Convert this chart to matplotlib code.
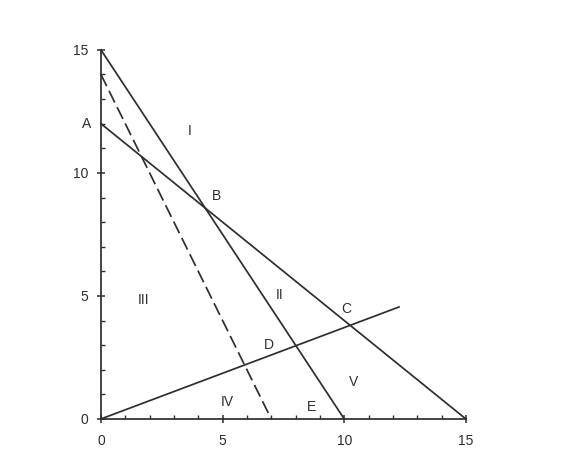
"""Region diagram: four constraint lines with labelled regions and points."""

import matplotlib.pyplot as plt
from matplotlib.ticker import MultipleLocator

plt.rcParams.update({"font.family": ["Liberation Sans", "DejaVu Sans"], "font.size": 10})

INK = "#2e2e2e"

# line end points
steep_x = [0, 10]
steep_y = [15, 0]
shallow_x = [0, 15]
shallow_y = [12, 0]
dashed_x = [0, 7]
dashed_y = [14, 0]
ray_x = [0, 12.25]
ray_y = [0, 4.55]

point_labels = ["A", "B", "C", "D", "E"]
point_x = [-0.6, 4.75, 10.1, 6.9, 8.65]
point_y = [12.0, 9.05, 4.45, 3.0, 0.5]

region_labels = ["I", "II", "III", "IV", "V"]
region_x = [3.65, 7.35, 1.75, 5.2, 10.4]
region_y = [11.7, 5.05, 4.85, 0.7, 1.5]

fig = plt.figure(figsize=(5.64, 4.75), dpi=100)
ax = fig.add_axes([0.179, 0.118, 0.647, 0.777])

ax.plot(steep_x, steep_y, color=INK, lw=1.25, clip_on=False)
ax.plot(shallow_x, shallow_y, color=INK, lw=1.25, clip_on=False)
ax.plot(dashed_x, dashed_y, color=INK, lw=1.25, ls=(0, (7.5, 3)), clip_on=False)
ax.plot(ray_x, ray_y, color=INK, lw=1.25, clip_on=False)

for label, x, y in zip(point_labels, point_x, point_y):
    ax.text(x, y, label, ha="center", va="center", color=INK, clip_on=False)
for label, x, y in zip(region_labels, region_x, region_y):
    ax.text(x, y, label, ha="center", va="center", color=INK)

ax.set_xlim(0, 15)
ax.set_ylim(0, 15)
ax.xaxis.set_major_locator(MultipleLocator(5))
ax.yaxis.set_major_locator(MultipleLocator(5))
ax.xaxis.set_minor_locator(MultipleLocator(1))
ax.yaxis.set_minor_locator(MultipleLocator(1))
ax.tick_params(which="major", direction="inout", length=6, width=1.1, color=INK, labelcolor=INK)
ax.tick_params(axis="x", which="major", pad=8)
ax.tick_params(axis="y", which="major", pad=6)
ax.tick_params(which="minor", direction="in", length=3, width=1.0, color=INK)
for side in ["top", "right"]:
    ax.spines[side].set_visible(False)
for side in ["left", "bottom"]:
    ax.spines[side].set_color(INK)
    ax.spines[side].set_linewidth(1.25)

fig.savefig("out.png", dpi=100)
